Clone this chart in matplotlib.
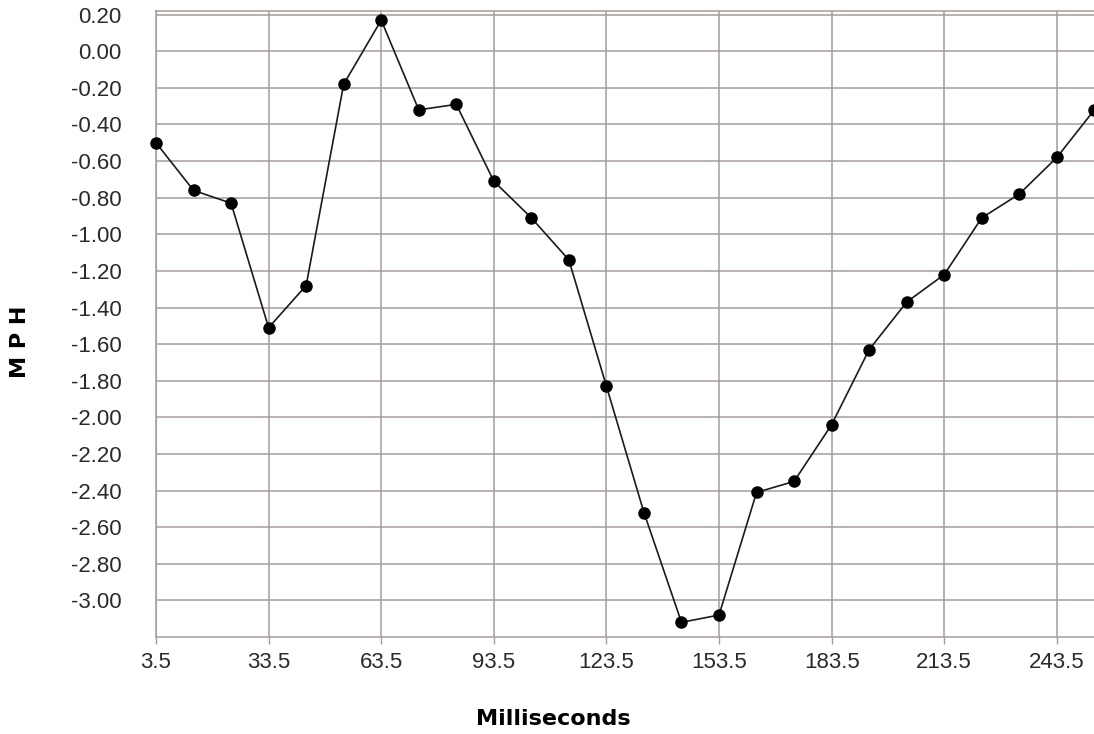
import matplotlib.pyplot as plt

# speed change over time, one sample every 10 ms
ms = [3.5, 13.5, 23.5, 33.5, 43.5, 53.5, 63.5, 73.5, 83.5, 93.5, 103.5, 113.5, 123.5,
      133.5, 143.5, 153.5, 163.5, 173.5, 183.5, 193.5, 203.5, 213.5, 223.5, 233.5,
      243.5, 253.5]
mph = [-0.50, -0.76, -0.83, -1.51, -1.28, -0.18, 0.17, -0.32, -0.29, -0.71, -0.91,
       -1.14, -1.83, -2.52, -3.12, -3.08, -2.41, -2.35, -2.04, -1.63, -1.37, -1.22,
       -0.91, -0.78, -0.58, -0.32]

x_ticks = [3.5, 33.5, 63.5, 93.5, 123.5, 153.5, 183.5, 213.5, 243.5]
x_labels = ['3.5', '33.5', '63.5', '93.5', '123.5', '153.5', '183.5', '213.5', '243.5']
y_ticks = [0.2, 0.0, -0.2, -0.4, -0.6, -0.8, -1.0, -1.2, -1.4, -1.6, -1.8, -2.0, -2.2,
           -2.4, -2.6, -2.8, -3.0]
y_labels = ['0.20', '0.00', '-0.20', '-0.40', '-0.60', '-0.80', '-1.00', '-1.20', '-1.40',
            '-1.60', '-1.80', '-2.00', '-2.20', '-2.40', '-2.60', '-2.80', '-3.00']

grid_col = '#a59c98'

fig = plt.figure(figsize=(10.94, 7.34), dpi=100)
ax = fig.add_axes([156 / 1094, 97 / 734, 938 / 1094, 626 / 734])

ax.plot(ms, mph, color='#1a1a1a', lw=1.2, marker='o', ms=8,
        mfc='black', mec='black', zorder=3, clip_on=False)

ax.set_xlim(3.5, 253.4)
ax.set_ylim(-3.2, 0.22)

ax.set_xticks(x_ticks)
ax.set_xticklabels(x_labels, fontsize=16, family='Liberation Sans', color='#2a2a2a')
ax.set_yticks(y_ticks)
ax.set_yticklabels(y_labels, fontsize=16, family='Liberation Sans', color='#2a2a2a')
ax.tick_params(axis='x', length=5, width=1.0, color=grid_col, pad=6)
ax.tick_params(axis='y', length=0, pad=25)

ax.set_axisbelow(True)
ax.grid(True, color=grid_col, lw=1.1)

for side in ['left', 'bottom', 'top']:
    ax.spines[side].set_color(grid_col)
    ax.spines[side].set_linewidth(1.1)
ax.spines['right'].set_visible(False)

fig.text(20 / 1094, 1 - 342 / 734, 'M P H', rotation=90, ha='center', va='center',
         fontsize=16, fontweight='bold', family='DejaVu Sans')
fig.text(553 / 1094, 1 - 719 / 734, 'Milliseconds', ha='center', va='center',
         fontsize=16, fontweight='bold', family='DejaVu Sans')

fig.savefig('out.png', dpi=100)
